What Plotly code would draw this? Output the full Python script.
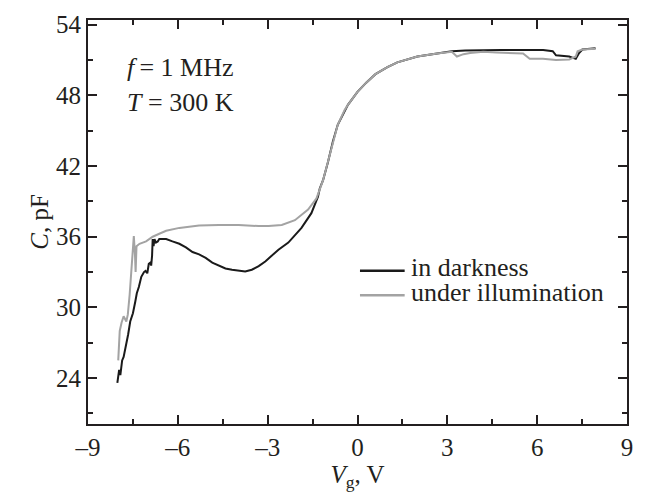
import plotly.graph_objects as go

# in darkness
dark_v = [-8.02, -7.96, -7.92, -7.86, -7.81, -7.74, -7.66, -7.59, -7.50, -7.42, -7.37, -7.30,
          -7.22, -7.13, -7.08, -7.02, -6.97, -6.92, -6.89, -6.86, -6.84, -6.81, -6.78, -6.73,
          -6.67, -6.62, -6.39, -6.18, -5.95, -5.73, -5.51, -5.29, -5.07, -4.85, -4.63, -4.41,
          -4.19, -3.97, -3.75, -3.53, -3.30, -3.08, -2.86, -2.64, -2.31, -1.87, -1.54, -1.32,
          -1.26, -1.15, -0.99, -0.82, -0.66, -0.43, -0.32, 0.0, 0.3, 0.6, 1.0, 1.33, 2.0, 2.66,
          3.15, 3.6, 4.2, 4.8, 5.5, 6.2, 6.52, 6.63, 7.07, 7.29, 7.40, 7.51, 7.95]
dark_c = [23.6, 24.7, 24.25, 25.5, 25.8, 26.6, 27.7, 28.8, 29.5, 30.5, 31.2, 31.75,
          32.6, 33.0, 33.1, 32.9, 33.7, 33.8, 33.55, 34.4, 35.8, 35.2, 35.8, 35.5,
          35.6, 35.8, 35.8, 35.6, 35.4, 35.1, 34.7, 34.5, 34.2, 33.8, 33.55, 33.3,
          33.2, 33.1, 33.05, 33.2, 33.5, 33.9, 34.4, 34.9, 35.5, 36.75, 38.0, 39.4,
          40.1, 40.8, 42.3, 44.1, 45.5, 46.75, 47.2, 48.3, 49.1, 49.8, 50.4, 50.8, 51.3, 51.55,
          51.75, 51.8, 51.85, 51.85, 51.85, 51.85, 51.75, 51.4, 51.3, 51.1, 51.6, 51.9, 52.0]

# under illumination
light_v = [-7.99, -7.94, -7.88, -7.81, -7.72, -7.67, -7.61, -7.55, -7.50, -7.47, -7.43, -7.41,
           -7.38, -7.28, -7.06, -6.84, -6.62, -6.39, -5.95, -5.29, -4.63, -3.97, -3.30, -2.97,
           -2.53, -2.09, -1.65, -1.37, -1.15, -0.99, -0.82, -0.66, -0.43, -0.32, 0.0, 0.3, 0.6,
           1.0, 1.33, 2.0, 2.66, 3.15, 3.32, 3.54, 3.76, 4.2, 4.64, 5.1, 5.53, 5.75, 6.19, 6.63,
           7.07, 7.29, 7.35, 7.51, 7.95]
light_c = [25.5, 28.0, 28.7, 29.25, 28.8, 29.4, 31.05, 33.3, 35.2, 36.05, 34.4, 33.0,
           35.2, 35.4, 35.6, 36.0, 36.25, 36.5, 36.75, 36.95, 37.0, 37.0, 36.9, 36.9,
           37.0, 37.4, 38.3, 39.25, 40.8, 42.3, 44.1, 45.5, 46.75, 47.2, 48.3, 49.1, 49.8,
           50.4, 50.8, 51.3, 51.55, 51.7, 51.3, 51.5, 51.6, 51.7, 51.65, 51.6, 51.55, 51.1, 51.1, 51.0,
           51.05, 51.3, 51.75, 51.9, 51.95]

series_names = ["in darkness", "under illumination"]
series_colors = ["#1a1a1a", "#a3a3a3"]

x_ticks = [-9, -6, -3, 0, 3, 6, 9]
y_ticks = [24, 30, 36, 42, 48, 54]

FONT = "Liberation Serif"
INK = "#231f20"
TS = 25

fig = go.Figure()
for v, c, name, col in [(dark_v, dark_c, series_names[0], series_colors[0]),
                        (light_v, light_c, series_names[1], series_colors[1])]:
    fig.add_trace(go.Scatter(x=v, y=c, mode="lines", name=name,
                             line=dict(color=col, width=2), showlegend=False))

axis_common = dict(showgrid=False, zeroline=False, showline=True, linecolor=INK, linewidth=2,
                   mirror="ticks", ticks="inside", ticklen=9, tickwidth=1.5, tickcolor=INK,
                   tickfont=dict(family=FONT, size=TS, color=INK))

fig.update_xaxes(range=[-9, 9], tickmode="array", tickvals=x_ticks,
                 ticktext=[("\u2013" + str(-t)) if t < 0 else str(t) for t in x_ticks],
                 minor=dict(dtick=1.5, tick0=-9, ticks="inside", ticklen=5, tickwidth=1.5, tickcolor=INK),
                 title=dict(text="<i>V</i><sub>g</sub>, V", font=dict(family=FONT, size=TS, color=INK),
                            standoff=2),
                 **axis_common)
fig.update_yaxes(range=[20.1, 54.4], tickmode="array", tickvals=y_ticks,
                 minor=dict(dtick=3, tick0=24, ticks="inside", ticklen=5, tickwidth=1.5, tickcolor=INK),
                 title=dict(text="<i>C</i>, pF", font=dict(family=FONT, size=TS, color=INK),
                            standoff=0),
                 **axis_common)

fig.add_annotation(x=-4.07, y=50.4, xref="x", yref="y", xanchor="right", yanchor="middle",
                   text="<i>f</i>\u2009= 1 MHz", showarrow=False,
                   font=dict(family=FONT, size=26, color=INK))
fig.add_annotation(x=-4.07, y=47.4, xref="x", yref="y", xanchor="right", yanchor="middle",
                   text="<i>T</i> = 300 K", showarrow=False,
                   font=dict(family=FONT, size=26, color=INK))

# legend drawn as line samples + labels (paper coordinates)
leg_x0, leg_x1, leg_tx = 0.5046, 0.5875, 0.5967
leg_ys = [0.3796, 0.3187]
for name, col, ly in zip(series_names, series_colors, leg_ys):
    fig.add_shape(type="line", xref="paper", yref="paper", x0=leg_x0, x1=leg_x1, y0=ly, y1=ly,
                  line=dict(color=col, width=2.5))
    fig.add_annotation(x=leg_tx, y=ly + 0.008, xref="paper", yref="paper", xanchor="left",
                       yanchor="middle", text=name, showarrow=False, height=24, borderpad=0,
                       font=dict(family=FONT, size=26, color=INK))

fig.update_layout(
    width=645, height=493,
    margin=dict(l=88, r=14, t=13, b=69),
    paper_bgcolor="white", plot_bgcolor="white",
    showlegend=False,
)

fig.write_html("out.html")
